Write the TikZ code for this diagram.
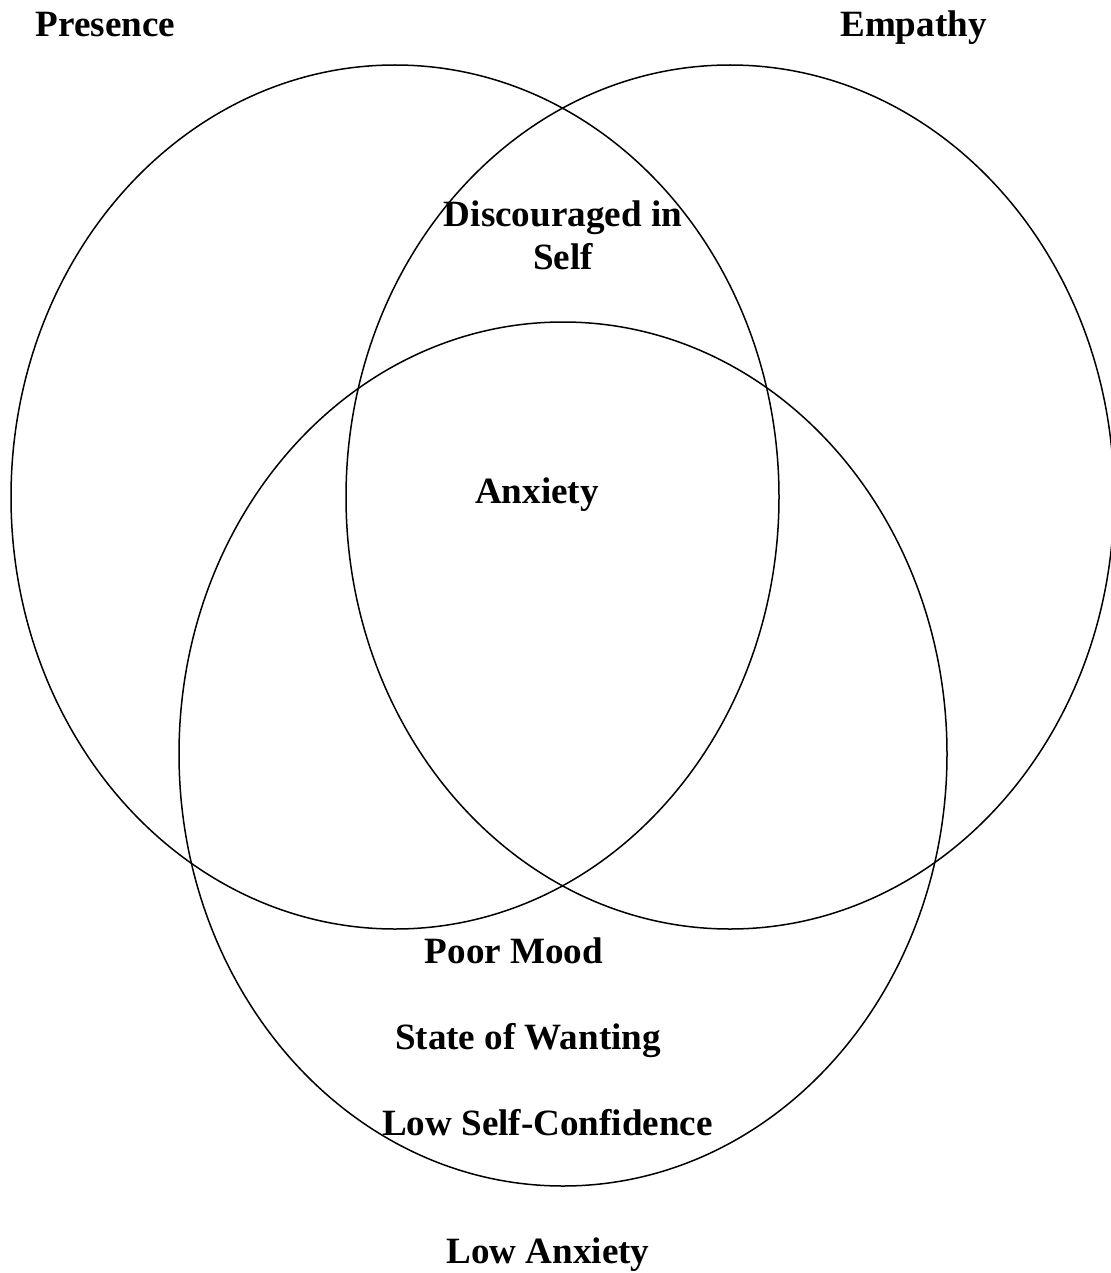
\documentclass[tikz,border=0pt]{standalone}
\usepackage{fontspec}
\setmainfont{Liberation Serif}
\usepackage{tikz}
\usetikzlibrary{shapes}
\tikzset{set ellipse/.style={ellipse, draw=black, line width=1.5pt,
    inner sep=0pt, minimum width=768pt, minimum height=864pt}}
\tikzset{set title/.style={font=\fontsize{37.1}{42.5}\selectfont\bfseries,
    inner sep=0pt, anchor=base}}
\tikzset{region text/.style={set title, align=center}}

\begin{document}
\begin{tikzpicture}
      [x=1pt, y=-1pt]
      \useasboundingbox (0,0) rectangle (1110,1273);

      \node [set ellipse]  (presence)   at (395, 497)  {};
      \node [set ellipse]  (empathy)    at (730, 497)  {};
      \node [set ellipse]  (lowanx)     at (563, 754)  {};

      \node [set title]    (presenceT)  at (105.5, 37) {Presence};
      \node [set title]    (empathyT)   at (913.5, 37) {Empathy};
      \node [set title]    (lowanxT)    at (548, 1263) {Low Anxiety};

      \node [region text, anchor=center] (discouraged) at (563, 235.5) {Discouraged in\\Self};
      \node [region text]  (anxiety)    at (537, 503)  {Anxiety};
      \node [region text]  (mood)       at (514, 963)  {Poor Mood};
      \node [region text]  (wanting)    at (528, 1049) {State of Wanting};
      \node [region text]  (confidence) at (547.5, 1135) {Low Self-Confidence};
    \end{tikzpicture}
\end{document}
